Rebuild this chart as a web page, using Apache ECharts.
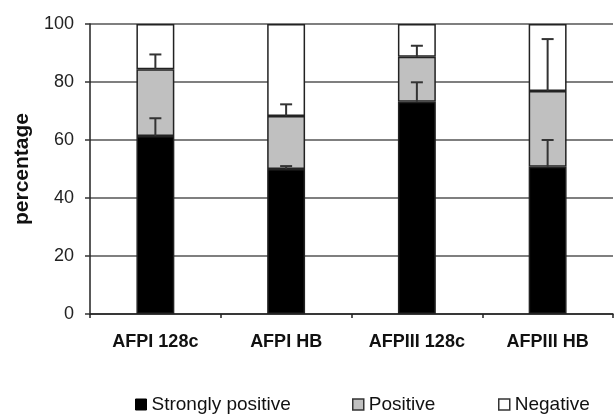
<!DOCTYPE html>
<html>
<head>
<meta charset="utf-8">
<script src="https://cdn.jsdelivr.net/npm/echarts@6/dist/echarts.min.js"></script>
<style>html,body{margin:0;padding:0;background:#fff}#c{width:615px;height:414px}</style>
</head>
<body>
<div id="c"></div>
<script>
var categories = ['AFPI 128c', 'AFPI HB', 'AFPIII 128c', 'AFPIII HB'];
var stronglyPositive = [61.4, 50, 73.2, 50.8];
var positive = [23, 18.3, 15.5, 26.1];
var negative = [15.6, 31.7, 11.3, 23.1];
var stronglyErr = [6.1, 1, 6.7, 9.2];
var positiveErr = [5.1, 4, 3.8, 17.9];
var yTicks = [0, 20, 40, 60, 80, 100];
var legendNames = ['Strongly positive', 'Positive', 'Negative'];

var FONT = '"Liberation Sans", Arial, sans-serif';
var chart = echarts.init(document.getElementById('c'));

function errData(base, err) {
  return categories.map(function (c, i) { return [i, base[i], base[i] + err[i]]; });
}
var strongTop = stronglyPositive.slice();
var posTop = stronglyPositive.map(function (v, i) { return v + positive[i]; });

function errRender(params, api) {
  var x = api.value(0);
  var p0 = api.coord([x, api.value(1)]);
  var p1 = api.coord([x, api.value(2)]);
  var hw = 6;
  var st = { stroke: '#333', lineWidth: 2 };
  return {
    type: 'group',
    children: [
      { type: 'line', shape: { x1: p0[0], y1: p0[1], x2: p1[0], y2: p1[1] }, style: st },
      { type: 'line', shape: { x1: p1[0] - hw, y1: p1[1], x2: p1[0] + hw, y2: p1[1] }, style: st }
    ]
  };
}

var barStyle = function (c) { return { color: c, borderColor: '#222', borderWidth: 1.5 }; };
var legendIcons = [
  { color: '#000', borderColor: '#000', borderWidth: 1 },
  { color: '#c0c0c0', borderColor: '#333', borderWidth: 1.5 },
  { color: '#fff', borderColor: '#333', borderWidth: 1.5 }
];
var legendLeft = [130, 347, 493];
var legends = legendNames.map(function (n, i) {
  return {
    top: 390, left: legendLeft[i], itemWidth: 11, itemHeight: 11,
    textStyle: { fontSize: 19, color: '#111', fontFamily: FONT },
    data: [{ name: n, icon: 'rect', itemStyle: legendIcons[i] }]
  };
});

chart.setOption({
  animation: false,
  textStyle: { fontFamily: FONT },
  grid: { left: 90, right: 2, top: 24, bottom: 100 },
  legend: legends,
  xAxis: {
    type: 'category', data: categories,
    axisLine: { lineStyle: { color: '#222', width: 1.5 } },
    axisTick: { show: true, length: 4, lineStyle: { color: '#222', width: 1.5 } },
    axisLabel: { margin: 19, fontSize: 18, fontWeight: 'bold', color: '#111', fontFamily: FONT }
  },
  yAxis: {
    type: 'value', min: 0, max: 100, interval: 20,
    name: 'percentage', nameLocation: 'middle', nameGap: 57, nameRotate: 90,
    nameTextStyle: { fontSize: 21, fontWeight: 'bold', color: '#111', fontFamily: FONT },
    axisLine: { show: true, lineStyle: { color: '#222', width: 1.5 } },
    axisTick: { show: true, length: 5, lineStyle: { color: '#333', width: 1.5 } },
    splitLine: { show: true, lineStyle: { color: '#555', width: 1.5 } },
    axisLabel: { margin: 16, fontSize: 18, color: '#222', fontFamily: FONT,
      formatter: function (v) { return yTicks.indexOf(v) >= 0 ? String(v) : ''; } }
  },
  series: [
    { name: legendNames[0], type: 'bar', stack: 's', data: stronglyPositive, barWidth: '29%', itemStyle: barStyle('#000') },
    { name: legendNames[1], type: 'bar', stack: 's', data: positive, itemStyle: barStyle('#c0c0c0') },
    { name: legendNames[2], type: 'bar', stack: 's', data: negative, itemStyle: barStyle('#fff') },
    { type: 'custom', renderItem: errRender, data: errData(strongTop, stronglyErr), z: 5, silent: true },
    { type: 'custom', renderItem: errRender, data: errData(posTop, positiveErr), z: 5, silent: true }
  ]
});
</script>
</body>
</html>
